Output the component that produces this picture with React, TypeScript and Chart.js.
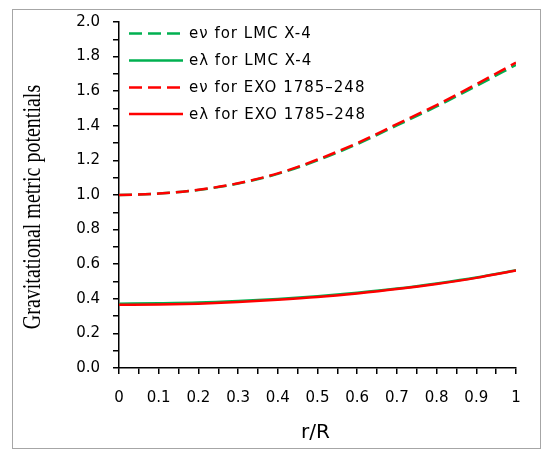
import React, { useEffect, useRef } from 'react';
import { Chart, registerables } from 'chart.js';

Chart.register(...registerables);

// Radial coordinate r/R and the metric potentials at each step
const radius = [0, 0.1, 0.2, 0.3, 0.4, 0.5, 0.6, 0.7, 0.8, 0.9, 1.0];
const evLMC = [1.0, 1.008, 1.029, 1.066, 1.122, 1.2, 1.294, 1.402, 1.512, 1.63, 1.752];
const elLMC = [0.372, 0.374, 0.378, 0.387, 0.399, 0.415, 0.435, 0.459, 0.489, 0.523, 0.565];
const evEXO = [1.0, 1.008, 1.03, 1.068, 1.125, 1.205, 1.3, 1.41, 1.52, 1.64, 1.765];
const elEXO = [0.365, 0.367, 0.372, 0.381, 0.394, 0.41, 0.431, 0.456, 0.486, 0.521, 0.563];

const seriesNames = [
  'eν for LMC X-4',
  'eλ for LMC X-4',
  'eν for EXO 1785–248',
  'eλ for EXO 1785–248',
];

const xTickLabels = ['0', '0.1', '0.2', '0.3', '0.4', '0.5', '0.6', '0.7', '0.8', '0.9', '1'];
const yTickLabels = ['0.0', '0.2', '0.4', '0.6', '0.8', '1.0', '1.2', '1.4', '1.6', '1.8', '2.0'];
const xTitle = 'r/R';
const yTitle = 'Gravitational metric potentials';

const GREEN = '#00b050';
const RED = '#ff0000';
const DASH = [13, 6];
const SANS = '"DejaVu Sans", "Noto Sans", sans-serif';

const toPoints = (ys: number[]) => radius.map((x, i) => ({ x, y: ys[i] }));

// Frame, in-plot legend and axis titles
const decorations = {
  id: 'decorations',
  beforeDraw(chart: any) {
    const { ctx, width, height } = chart;
    ctx.save();
    ctx.fillStyle = '#ffffff';
    ctx.fillRect(0, 0, width, height);
    ctx.strokeStyle = '#a6a6a6';
    ctx.lineWidth = 1;
    ctx.strokeRect(12.5, 9.5, 528, 439);
    ctx.restore();
  },
  afterDraw(chart: any) {
    const { ctx, chartArea } = chart;
    ctx.save();
    // legend
    const rowY = [33.5, 60.5, 87.5, 114];
    const lx0 = chartArea.left + 10;
    const lx1 = lx0 + 54;
    chart.data.datasets
      .slice()
      .sort((a: any, b: any) => a.legendIndex - b.legendIndex)
      .forEach((ds: any, i: number) => {
        const y = rowY[i];
        ctx.strokeStyle = ds.borderColor;
        ctx.lineWidth = 2.5;
        ctx.setLineDash(ds.borderDash || []);
        ctx.beginPath();
        ctx.moveTo(lx0, y);
        ctx.lineTo(lx1, y);
        ctx.stroke();
        ctx.setLineDash([]);
        ctx.fillStyle = '#000';
        ctx.font = `15px ${SANS}`;
        ctx.letterSpacing = '1px';
        ctx.textAlign = 'left';
        ctx.textBaseline = 'middle';
        ctx.fillText(ds.label, lx1 + 6, y + 1);
        ctx.letterSpacing = '0px';
      });
    // x title
    ctx.fillStyle = '#000';
    ctx.font = `20px ${SANS}`;
    ctx.textAlign = 'center';
    ctx.textBaseline = 'middle';
    ctx.fillText(xTitle, (chartArea.left + chartArea.right) / 2 - 2, 433);
    // y title, slightly widened glyphs
    ctx.translate(33, (chartArea.top + chartArea.bottom) / 2 + 12);
    ctx.scale(1.25, 1);
    ctx.rotate(-Math.PI / 2);
    ctx.font = '20px "Liberation Serif", "DejaVu Serif", serif';
    ctx.fillText(yTitle, 0, 0);
    ctx.restore();
  },
};

export default function App() {
  const canvasRef = useRef<HTMLCanvasElement | null>(null);

  useEffect(() => {
    const canvas = canvasRef.current;
    if (!canvas) return;
    const chart = new Chart(canvas, {
      type: 'line',
      data: {
        datasets: [
          { label: seriesNames[0], data: toPoints(evLMC), borderColor: GREEN, borderDash: DASH, order: 1, legendIndex: 0 },
          { label: seriesNames[1], data: toPoints(elLMC), borderColor: GREEN, order: 1, legendIndex: 1 },
          { label: seriesNames[2], data: toPoints(evEXO), borderColor: RED, borderDash: DASH, order: 0, legendIndex: 2 },
          { label: seriesNames[3], data: toPoints(elEXO), borderColor: RED, order: 0, legendIndex: 3 },
        ].map((d: any) => ({
          ...d,
          borderWidth: 2.5,
          pointRadius: 0,
          fill: false,
          cubicInterpolationMode: 'monotone',
        })),
      },
      options: {
        animation: false,
        responsive: false,
        devicePixelRatio: 1,
        layout: { padding: { left: 0, top: 22, right: 39, bottom: 0 } },
        plugins: { legend: { display: false }, tooltip: { enabled: false } },
        scales: {
          x: {
            type: 'linear',
            min: 0,
            max: 1,
            afterFit: (s: any) => {
              s.height = 97;
            },
            afterBuildTicks: (s: any) => {
              s.ticks = Array.from({ length: 21 }, (_, i) => ({ value: i * 0.05 }));
            },
            ticks: {
              autoSkip: false,
              maxRotation: 0,
              padding: 15,
              color: '#000',
              font: { family: SANS, size: 15 },
              callback: (_v: any, i: number) => (i % 2 === 0 ? xTickLabels[i / 2] : ''),
            },
            grid: { drawOnChartArea: false, drawTicks: true, tickLength: 6, color: '#000', lineWidth: 1.5 },
            border: { display: true, color: '#000', width: 1.5 },
          },
          y: {
            type: 'linear',
            min: 0,
            max: 2,
            afterFit: (s: any) => {
              s.width = 119;
            },
            afterBuildTicks: (s: any) => {
              s.ticks = Array.from({ length: 21 }, (_, i) => ({ value: i * 0.1 }));
            },
            ticks: {
              autoSkip: false,
              padding: 13,
              color: '#000',
              font: { family: SANS, size: 15 },
              callback: (_v: any, i: number) => (i % 2 === 0 ? yTickLabels[i / 2] : ''),
            },
            grid: { drawOnChartArea: false, drawTicks: true, tickLength: 6, color: '#000', lineWidth: 1.5 },
            border: { display: true, color: '#000', width: 1.5 },
          },
        },
      },
      plugins: [decorations],
    } as any);
    return () => chart.destroy();
  }, []);

  return (
    <div style={{ position: 'fixed', left: 0, top: 0, width: 555, height: 465, background: '#fff' }}>
      <canvas ref={canvasRef} width={555} height={465} style={{ display: 'block', width: 555, height: 465 }} />
    </div>
  );
}
